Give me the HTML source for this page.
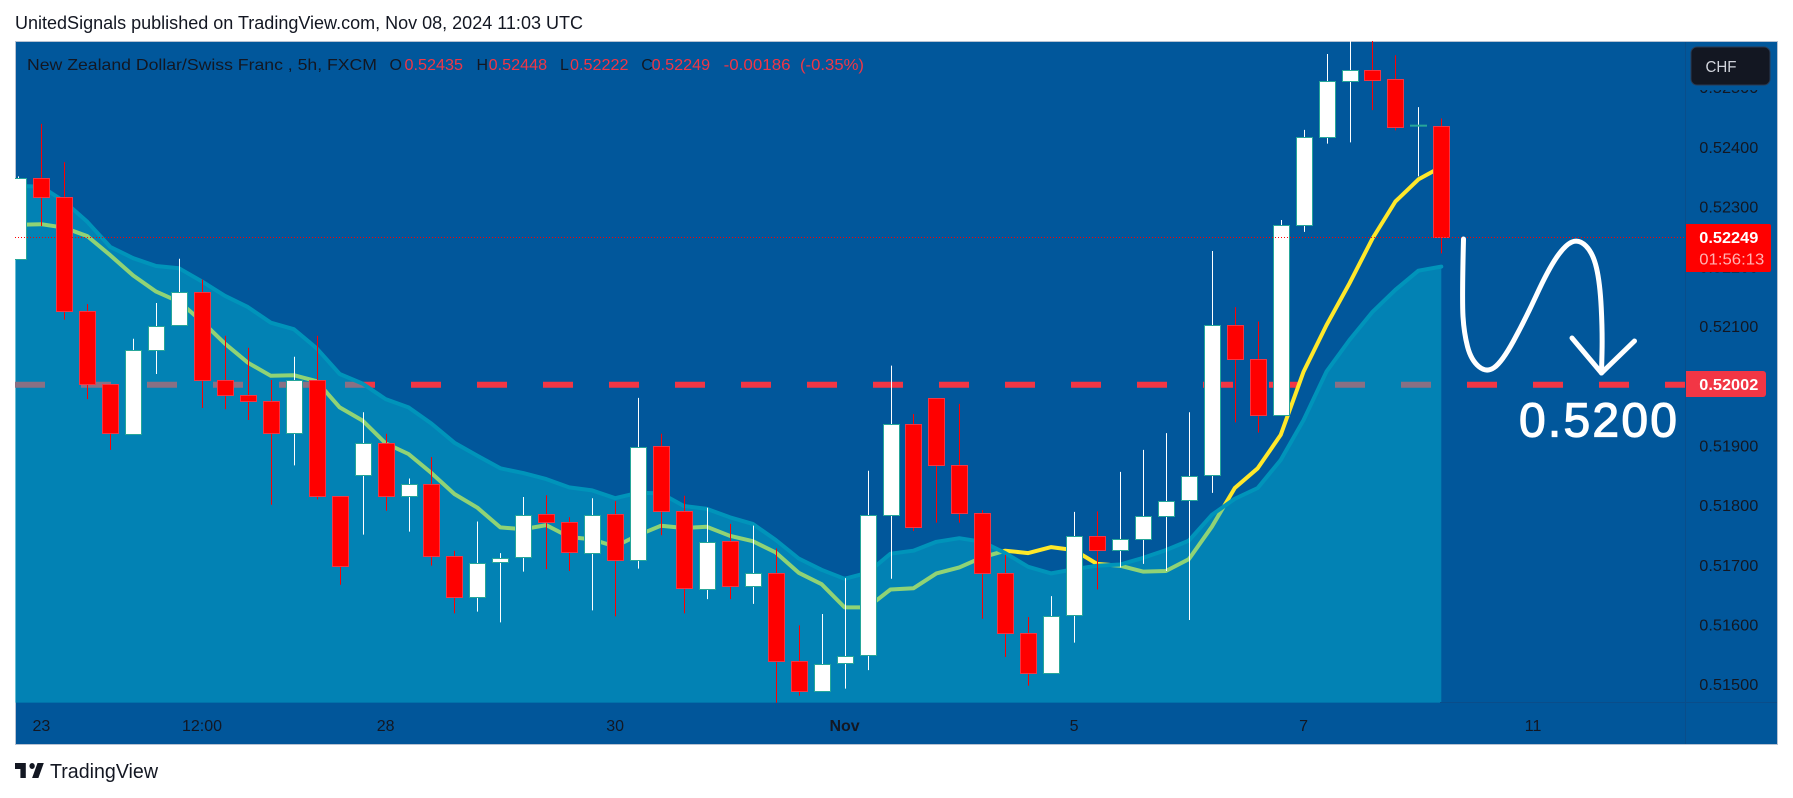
<!DOCTYPE html>
<html lang="en">
<head>
<meta charset="utf-8">
<title>NZD/CHF chart</title>
<style>
html,body{margin:0;padding:0;background:#fff;width:1793px;height:798px;overflow:hidden}
svg{display:block;position:absolute;left:0;top:0}
text{font-family:"Liberation Sans",sans-serif}
</style>
</head>
<body>
<svg id="chart" xmlns="http://www.w3.org/2000/svg" width="1793" height="798" viewBox="0 0 1793 798">
  <defs><clipPath id="plotClip"><rect x="15" y="41" width="1670.6" height="661.7"/></clipPath></defs>
  <text x="15" y="29" font-size="18" fill="#131722" textLength="568" lengthAdjust="spacingAndGlyphs">UnitedSignals published on TradingView.com, Nov 08, 2024 11:03 UTC</text>
  <rect x="15.5" y="41.5" width="1762" height="703" fill="#01579b" stroke="#b7c2d2" stroke-width="1"/>
  <g id="plot" clip-path="url(#plotClip)"></g>
  <line x1="1685.5" y1="42" x2="1685.5" y2="744" stroke="#0a4d8a" stroke-width="1"/>
  <line x1="1440" y1="702.5" x2="1777" y2="702.5" stroke="#0a4d8a" stroke-width="1"/>
  <rect x="16" y="703" width="1669" height="41" fill="#01569a"/>
  <g id="priceAxis"></g>
  <g id="timeAxis"></g>

  <g font-size="16" fill="#131722">
    <text x="27" y="70" textLength="350" lengthAdjust="spacingAndGlyphs">New Zealand Dollar/Swiss Franc , 5h, FXCM</text>
    <text x="389.5" y="70">O</text>
    <text x="404.5" y="70" fill="#f23645" textLength="58.5" lengthAdjust="spacingAndGlyphs">0.52435</text>
    <text x="476.5" y="70">H</text>
    <text x="488.7" y="70" fill="#f23645" textLength="58.5" lengthAdjust="spacingAndGlyphs">0.52448</text>
    <text x="560" y="70">L</text>
    <text x="570" y="70" fill="#f23645" textLength="58.5" lengthAdjust="spacingAndGlyphs">0.52222</text>
    <text x="641.3" y="70">C</text>
    <text x="651.7" y="70" fill="#f23645" textLength="58.5" lengthAdjust="spacingAndGlyphs">0.52249</text>
    <text x="723.6" y="70" fill="#f23645" textLength="67" lengthAdjust="spacingAndGlyphs">-0.00186</text>
    <text x="800" y="70" fill="#f23645" textLength="64" lengthAdjust="spacingAndGlyphs">(-0.35%)</text>
  </g>

  <rect x="1687" y="42" width="90" height="48" fill="#01579b"/>
  <g>
    <rect x="1691" y="47" width="79" height="38" rx="6" fill="#131722" stroke="#2a3a52" stroke-width="1"/>
    <text x="1705.5" y="72" font-size="16" fill="#d1d4dc" textLength="31" lengthAdjust="spacingAndGlyphs">CHF</text>
  </g>

  <g>
    <path d="M1686 224H1769a2 2 0 0 1 2 2V270a2 2 0 0 1 -2 2H1686Z" fill="#ff0000"/>
    <text x="1699.3" y="243" font-size="16" font-weight="700" fill="#fff" textLength="59" lengthAdjust="spacingAndGlyphs">0.52249</text>
    <text x="1699.3" y="264.5" font-size="16" fill="#ffb3b3" textLength="65" lengthAdjust="spacingAndGlyphs">01:56:13</text>
  </g>
  <g>
    <path d="M1686 371H1763a3 3 0 0 1 3 3V394a3 3 0 0 1 -3 3H1686Z" fill="#f23645"/>
    <text x="1699.3" y="390" font-size="16" font-weight="700" fill="#fff" textLength="59" lengthAdjust="spacingAndGlyphs">0.52002</text>
  </g>

  <g id="annotation" fill="none" stroke="#fff" stroke-width="5" stroke-linecap="round" stroke-linejoin="round"></g>
  <text x="1519" y="436.5" font-size="48" fill="#fff" stroke="#fff" stroke-width="1.2" textLength="158">0.5200</text>

  <g>
    <path transform="translate(13.2 757) scale(.9 1)" d="M14 6H2v6h6v9h6V6Zm14 15h-7l6-15h7l-6 15Zm-7-9a3 3 0 1 0 0-6 3 3 0 0 0 0 6Z" fill="#131722"/>
    <text x="50" y="778" font-size="20" fill="#131722" textLength="108" lengthAdjust="spacingAndGlyphs">TradingView</text>
  </g>
</svg>

<script>
// ---- Chart data (5h NZD/CHF candles) ----
const opens = [0.52212,0.52348,0.52316,0.52125,0.52003,0.51921,0.52061,0.52101,0.52157,0.52010,0.51985,0.51975,0.51922,0.52010,0.51815,0.51850,0.51904,0.51815,0.51835,0.51715,0.51647,0.51705,0.51714,0.51785,0.51772,0.51721,0.51785,0.51708,0.51899,0.51790,0.51661,0.51740,0.51664,0.51686,0.51539,0.51489,0.51536,0.51549,0.51784,0.51936,0.51979,0.51867,0.51787,0.51686,0.51586,0.51519,0.51616,0.51748,0.51725,0.51745,0.51783,0.51809,0.51850,0.52102,0.52045,0.51951,0.52269,0.52417,0.52510,0.52529,0.52514,0.52436,0.52435];
const closes = [0.52348,0.52316,0.52125,0.52003,0.51921,0.52061,0.52101,0.52157,0.52010,0.51985,0.51975,0.51922,0.52010,0.51815,0.51698,0.51904,0.51815,0.51835,0.51715,0.51647,0.51704,0.51712,0.51784,0.51771,0.51721,0.51784,0.51708,0.51898,0.51790,0.51661,0.51739,0.51664,0.51686,0.51539,0.51489,0.51535,0.51548,0.51784,0.51936,0.51764,0.51867,0.51787,0.51686,0.51586,0.51519,0.51615,0.51748,0.51724,0.51744,0.51783,0.51808,0.51850,0.52102,0.52045,0.51951,0.52269,0.52417,0.52510,0.52529,0.52513,0.52434,0.52436,0.52249];
const highs = [0.52351,0.52439,0.52375,0.52137,0.52003,0.52079,0.52139,0.52213,0.52178,0.52084,0.52064,0.52010,0.52049,0.52084,0.51815,0.51956,0.51920,0.51845,0.51881,0.51724,0.51773,0.51720,0.51814,0.51817,0.51780,0.51812,0.51807,0.51980,0.51920,0.51816,0.51796,0.51769,0.51766,0.51728,0.51599,0.51618,0.51678,0.51858,0.52034,0.51953,0.51979,0.51970,0.51792,0.51717,0.51613,0.51648,0.51789,0.51790,0.51856,0.51893,0.51921,0.51956,0.52226,0.52132,0.52108,0.52278,0.52429,0.52556,0.52586,0.52586,0.52554,0.52467,0.52448];
const lows = [0.52212,0.52268,0.52111,0.51978,0.51893,0.51921,0.52020,0.52101,0.51963,0.51961,0.51943,0.51801,0.51867,0.51810,0.51667,0.51751,0.51791,0.51756,0.51699,0.51619,0.51622,0.51604,0.51689,0.51693,0.51690,0.51624,0.51614,0.51694,0.51750,0.51619,0.51643,0.51643,0.51635,0.51469,0.51481,0.51489,0.51493,0.51524,0.51677,0.51757,0.51771,0.51771,0.51610,0.51546,0.51498,0.51519,0.51570,0.51659,0.51696,0.51702,0.51690,0.51608,0.51821,0.51939,0.51922,0.51951,0.52258,0.52406,0.52408,0.52462,0.52428,0.52351,0.52222];
const fastEma = [0.52270,0.52271,0.52265,0.52251,0.52219,0.52185,0.52158,0.52141,0.52108,0.52071,0.52039,0.52017,0.52018,0.52008,0.51964,0.51942,0.51904,0.51886,0.51854,0.51819,0.51796,0.51763,0.51760,0.51767,0.51747,0.51743,0.51731,0.51750,0.51766,0.51762,0.51764,0.51749,0.51740,0.51721,0.51687,0.51668,0.51629,0.51629,0.51659,0.51661,0.51686,0.51696,0.51713,0.51724,0.51720,0.51730,0.51725,0.51702,0.51699,0.51689,0.51690,0.51710,0.51764,0.51829,0.51862,0.51918,0.52024,0.52102,0.52172,0.52247,0.52309,0.52346,0.52367];
const slowEma = [0.52335,0.52334,0.52309,0.52275,0.52233,0.52214,0.52201,0.52197,0.52175,0.52151,0.52132,0.52106,0.52095,0.52063,0.52020,0.52004,0.51978,0.51964,0.51937,0.51905,0.51883,0.51862,0.51854,0.51844,0.51830,0.51825,0.51812,0.51821,0.51820,0.51799,0.51794,0.51780,0.51769,0.51742,0.51711,0.51692,0.51677,0.51687,0.51719,0.51724,0.51739,0.51745,0.51739,0.51720,0.51697,0.51686,0.51693,0.51699,0.51701,0.51712,0.51725,0.51741,0.51784,0.51811,0.51829,0.51876,0.51943,0.52024,0.52077,0.52124,0.52161,0.52193,0.52200];
const priceTicks = [0.52500,0.52400,0.52300,0.52200,0.52100,0.51900,0.51800,0.51700,0.51600,0.51500];
const timeTickBars = [1,8,16,26,36,46,56,66];
const timeTickLabels = ['23','12:00','28','30','Nov','5','7','11'];
const boldTimeLabels = ['Nov'];
const lastPrice = 0.52249;
const levelPrice = 0.52002;

// ---- Axis functions ----
function priceToY(p){ return 237.3 + (0.52249 - p) * 59700; }
function barToX(i){ return 18.4 + 22.95 * i; }

const NS = 'http://www.w3.org/2000/svg';
const PLOT_LEFT = 15, PLOT_RIGHT = 1685.5, PLOT_BOTTOM = 702.7;
const plot = document.getElementById('plot');
const priceAxis = document.getElementById('priceAxis');
const timeAxis = document.getElementById('timeAxis');
const annotation = document.getElementById('annotation');

function make(tag, attrs, parent){
  const el = document.createElementNS(NS, tag);
  for (const k in attrs) el.setAttribute(k, attrs[k]);
  parent.appendChild(el);
  return el;
}
function linePath(values){
  return values.map((v, i) => (i ? 'L' : 'M') + barToX(i).toFixed(1) + ' ' + priceToY(v).toFixed(1)).join('');
}

// level line under the band
const levelLine = make('line', {x1: PLOT_LEFT, x2: PLOT_RIGHT, y1: priceToY(levelPrice), y2: priceToY(levelPrice), stroke: '#f23645', 'stroke-width': 6, 'stroke-dasharray': '30 36'}, plot);



// fast EMA under the band fill
const fastLine = make('path', {d: linePath(fastEma), fill: 'none', stroke: '#ffe82a', 'stroke-width': 4, 'stroke-linejoin': 'round', 'stroke-linecap': 'round'}, plot);



// slow EMA area fill
const lastX = barToX(slowEma.length - 1);
const areaD = 'M' + PLOT_LEFT + ' ' + priceToY(slowEma[0]).toFixed(1) + 'L' + linePath(slowEma).slice(1) + 'L' + lastX.toFixed(1) + ' ' + PLOT_BOTTOM + 'L' + PLOT_LEFT + ' ' + PLOT_BOTTOM + 'Z';
const area = make('path', {d: areaD, fill: 'rgb(5,184,212)', 'fill-opacity': 0.443}, plot);



const slowLine = make('path', {d: linePath(slowEma), fill: 'none', stroke: '#0094ba', 'stroke-width': 4, 'stroke-linejoin': 'round', 'stroke-linecap': 'round'}, plot);



// candles
opens.forEach((open, i) => {
  const close = closes[i];
  const up = close >= open;
  const cx = Math.round(barToX(i)) + 0.5;
  const yTop = priceToY(Math.max(open, close));
  const yBot = priceToY(Math.min(open, close));
  const wick = make('line', {x1: cx, x2: cx, y1: priceToY(highs[i]), y2: priceToY(lows[i]), stroke: up ? '#ffffff' : '#ff0000', 'stroke-width': 1}, plot);
  
  
  let body;
  if (yBot - yTop < 1.5) {
    body = make('rect', {x: cx - 8.5, y: yTop - 1, width: 17, height: 2, fill: '#26a69a'}, plot);
  } else {
    body = make('rect', {x: cx - 8, y: Math.round(yTop) + 0.5, width: 16, height: Math.max(1, Math.round(yBot - yTop)), fill: up ? '#ffffff' : '#ff0000', stroke: up ? '#26a69a' : '#f23645', 'stroke-width': 1}, plot);
  }
  
  
});

// last price dotted line, over the candles
const lastLine = make('line', {x1: PLOT_LEFT, x2: PLOT_RIGHT, y1: Math.round(priceToY(lastPrice)) + 0.5, y2: Math.round(priceToY(lastPrice)) + 0.5, stroke: '#f00', 'stroke-width': 1, 'stroke-dasharray': '1 2'}, plot);



// price axis labels
priceTicks.forEach(t => {
  const label = make('text', {x: 1699.3, y: priceToY(t) + 5.7, 'font-size': 16, fill: '#131722', textLength: 59, lengthAdjust: 'spacingAndGlyphs'}, priceAxis);
  
  
  label.textContent = t.toFixed(5);
});

// time axis labels
timeTickBars.forEach((bar, i) => {
  const text = timeTickLabels[i];
  const bold = boldTimeLabels.includes(text);
  const label = make('text', {x: barToX(bar), y: 731, 'font-size': 16, fill: '#131722', 'text-anchor': 'middle', 'font-weight': bold ? 700 : 400}, timeAxis);
  
  
  label.textContent = text;
});

// hand-drawn projection (annotation, not data)
const curve = [[1463.5,239],[1462,300],[1464,333],[1471,360],[1486.5,373],[1502,362],[1525,320],[1548,270],[1565,245],[1579,239],[1593,253],[1600,283],[1602.5,333],[1601.5,373]];
let curveD = 'M' + curve[0].join(' ');
for (let i = 1; i < curve.length - 1; i++) {
  const mx = (curve[i][0] + curve[i + 1][0]) / 2, my = (curve[i][1] + curve[i + 1][1]) / 2;
  curveD += 'Q' + curve[i].join(' ') + ' ' + mx + ' ' + my;
}
curveD += 'L' + curve[curve.length - 1].join(' ');
const curvePath = make('path', {d: curveD}, annotation);


const arrowHead = make('path', {d: 'M1572 338L1601.5 373L1634.5 341'}, annotation);


</script>
</body>
</html>
